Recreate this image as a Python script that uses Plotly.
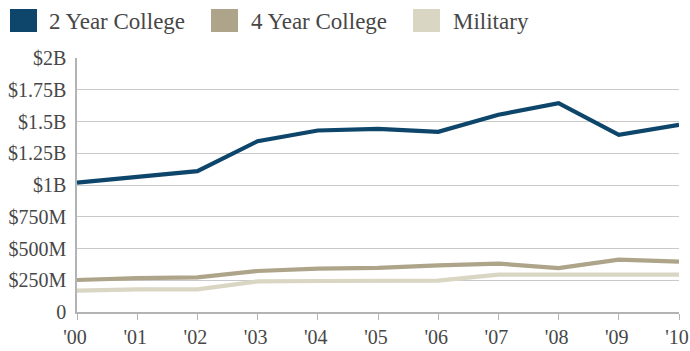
import plotly.graph_objects as go

# Annual spending by destination, 2000-2010 (millions of dollars)
years = [2000, 2001, 2002, 2003, 2004, 2005, 2006, 2007, 2008, 2009, 2010]
year_labels = ["'00", "'01", "'02", "'03", "'04", "'05", "'06", "'07", "'08", "'09", "'10"]

two_year = [1018, 1060, 1109, 1345, 1429, 1442, 1419, 1553, 1644, 1395, 1474]
four_year = [252, 267, 273, 323, 341, 347, 367, 381, 346, 412, 396]
military = [168, 178, 178, 241, 244, 247, 247, 294, 294, 294, 294]

series_names = ["2 Year College", "4 Year College", "Military"]
series_colors = ["#0e466b", "#aea48a", "#d9d6c3"]

y_tick_vals = [0, 250, 500, 750, 1000, 1250, 1500, 1750, 2000]
y_tick_text = ["0", "$250M", "$500M", "$750M", "$1B", "$1.25B", "$1.5B", "$1.75B", "$2B"]

W, H = 690, 351
ML, MR, MT, MB = 77, 11, 58, 39
PW, PH = W - ML - MR, H - MT - MB

FONT = "Liberation Serif"
TEXT_COLOR = "#474747"


def px_x(px):
    return (px - ML) / PW


def px_y(py):
    return (H - MB - py) / PH


fig = go.Figure()
for name, vals, color in reversed(list(zip(series_names, [two_year, four_year, military], series_colors))):
    fig.add_trace(go.Scatter(
        x=years, y=vals, mode="lines", name=name,
        line=dict(color=color, width=4.2),
        showlegend=False,
    ))

# Legend drawn as square swatches with labels across the top
swatch_left = [10, 211, 413]
text_left = [47, 249, 451]
shapes = []
annotations = []
for name, color, sx, tx in zip(series_names, series_colors, swatch_left, text_left):
    shapes.append(dict(
        type="rect", xref="paper", yref="paper",
        x0=px_x(sx), x1=px_x(sx + 27), y0=px_y(32), y1=px_y(9),
        fillcolor=color, line=dict(width=0), layer="above",
    ))
    annotations.append(dict(
        text=name, xref="paper", yref="paper",
        x=px_x(tx), y=px_y(21), xanchor="left", yanchor="middle",
        showarrow=False, font=dict(family=FONT, size=23, color=TEXT_COLOR),
    ))

fig.update_layout(
    width=W, height=H,
    margin=dict(l=ML, r=MR, t=MT, b=MB, pad=0),
    paper_bgcolor="white", plot_bgcolor="white",
    showlegend=False,
    shapes=shapes, annotations=annotations,
    font=dict(family=FONT, size=20, color=TEXT_COLOR),
)
fig.update_xaxes(
    range=[2000, 2010], tickvals=years, ticktext=year_labels,
    showgrid=False, zeroline=False, automargin=False,
    showline=True, linecolor="#b3b3b3", linewidth=1.5,
    ticks="outside", ticklen=6, tickcolor="#b3b3b3", tickwidth=1.2,
    ticklabeloverflow="allow", ticklabelshift=-2,
    tickfont=dict(family=FONT, size=20, color=TEXT_COLOR),
)
fig.update_yaxes(
    range=[0, 2000], tickvals=y_tick_vals, ticktext=y_tick_text,
    showgrid=True, gridcolor="#c9c9c9", gridwidth=1.3, zeroline=False,
    automargin=False,
    showline=True, linecolor="#b3b3b3", linewidth=1.5,
    ticks="", ticklabelstandoff=5,
    tickfont=dict(family=FONT, size=20, color=TEXT_COLOR),
)

fig.write_html("out.html")
